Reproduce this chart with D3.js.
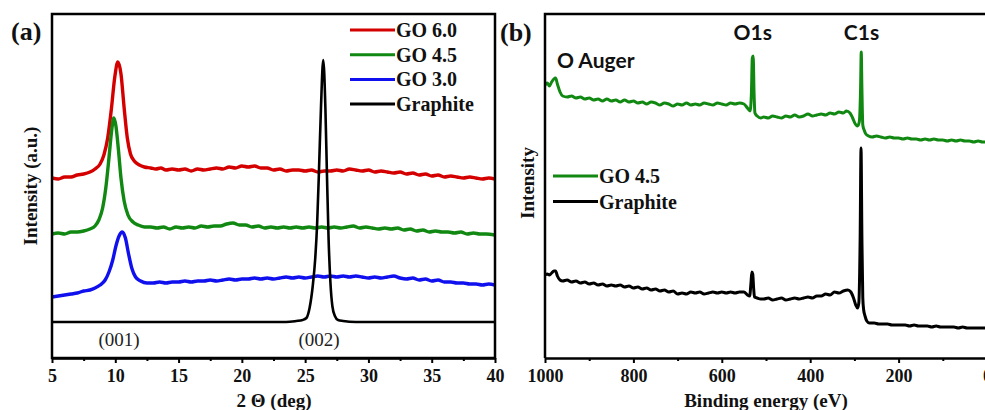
<!DOCTYPE html>
<html>
<head>
<meta charset="utf-8">
<script src="https://cdn.jsdelivr.net/npm/d3@7"></script>
<style>
  body { margin: 0; background: #fff; }
  svg { display: block; }
  .serif { font-family: "Liberation Serif", "Times New Roman", serif; font-weight: bold; fill: #111; }
  .sans { font-family: Lato, "Open Sans", sans-serif; font-weight: 700; fill: #111; }
</style>
</head>
<body>
<svg id="chart" width="985" height="410"></svg>
<script>

// ---- panel (a): XRD, [2theta, intensity (a.u.)] ----
var xrdTicks = [5, 10, 15, 20, 25, 30, 35, 40];
var xrdMinor = [7.5, 12.5, 17.5, 22.5, 27.5, 32.5, 37.5];
var xrdSeries = ["GO 6.0", "GO 4.5", "GO 3.0", "Graphite"];
var xrdColors = ["#d40000", "#118811", "#1010ee", "#000000"];

var go60 = [[5,180],[5.5,179],[6,181],[6.5,181],[7,183],[7.5,184],[8,186],[8.4,189],[8.8,194],[9.1,203],[9.4,220],[9.7,250],[9.95,280],[10.2,296],[10.45,284],[10.7,250],[10.95,220],[11.2,204],[11.5,197],[11.9,193],[12.3,191],[12.8,190],[13.2,189],[13.6,190],[14,188],[14.5,189],[15,188],[15.5,189],[16,187],[16.5,189],[17,188],[17.5,189],[18,190],[18.5,189],[19,191],[19.5,190],[20,192],[20.5,191],[21,192],[21.5,190],[22,190],[22.5,188],[23,189],[23.5,187],[24,188],[24.5,188],[25,187],[25.5,188],[26,186],[26.5,187],[27,187],[27.5,188],[28,187],[28.5,189],[29,188],[29.5,187],[30,188],[30.5,186],[31,187],[31.5,186],[32,185],[32.5,186],[33,184],[33.5,185],[34,183],[34.5,184],[35,182],[35.5,183],[36,181],[36.5,182],[37,181],[37.5,180],[38,181],[38.5,180],[39,179],[39.5,180],[40,179]];

var go45 = [[5,124],[5.5,125],[6,124],[6.5,126],[7,126],[7.5,127],[8,129],[8.4,132],[8.7,138],[9.0,150],[9.25,170],[9.5,200],[9.7,226],[9.88,240],[10.05,232],[10.25,208],[10.45,180],[10.7,157],[11.0,143],[11.4,136],[11.8,133],[12.3,131],[12.8,131],[13.3,130],[13.8,131],[14.3,129],[14.8,131],[15.3,130],[15.8,131],[16.3,130],[16.8,132],[17.3,131],[17.8,132],[18.3,132],[18.8,134],[19.3,135],[19.8,133],[20.3,133],[20.8,131],[21.3,132],[21.8,130],[22.3,131],[22.8,130],[23.3,131],[23.8,130],[24.3,131],[24.8,130],[25.3,131],[25.8,130],[26.3,131],[26.8,130],[27.3,131],[27.8,130],[28.3,131],[28.8,132],[29.3,130],[29.8,131],[30.3,130],[30.8,129],[31.3,130],[31.8,129],[32.3,130],[32.8,128],[33.3,129],[33.8,127],[34.3,128],[34.8,126],[35.3,127],[35.8,126],[36.3,126],[36.8,125],[37.3,126],[37.8,124],[38.3,125],[38.8,124],[39.3,124],[40,123]];

var go30 = [[5,61],[5.5,62],[6,63],[6.5,64],[7,65],[7.5,67],[8,68],[8.4,70],[8.8,73],[9.2,78],[9.5,86],[9.8,98],[10.05,112],[10.3,122],[10.55,126],[10.8,120],[11.05,104],[11.3,90],[11.6,81],[12,77],[12.5,75],[13,75],[13.5,76],[14,75],[14.5,76],[15,76],[15.5,77],[16,76],[16.5,77],[17,77],[17.5,78],[18,77],[18.5,78],[19,79],[19.5,78],[20,79],[20.5,79],[21,80],[21.5,79],[22,80],[22.5,79],[23,80],[23.5,81],[24,80],[24.5,81],[25,80],[25.5,81],[26,82],[26.5,81],[27,82],[27.5,81],[28,82],[28.5,81],[29,82],[29.5,81],[30,80],[30.5,81],[31,80],[31.5,81],[32,82],[32.5,80],[33,79],[33.5,80],[34,78],[34.5,79],[35,77],[35.5,78],[36,76],[36.5,76],[37,75],[37.5,75],[38,74],[38.5,74],[39,73],[39.5,74],[40,73]];

var graphiteXrd = [[5,36],[6,36],[8,36],[10,36],[12,36],[14,36],[16,36],[18,36],[20,36],[22,36],[23.5,36],[24.3,37],[24.8,38],[25.1,40],[25.35,50],[25.6,72],[25.8,100],[25.95,135],[26.1,190],[26.25,250],[26.43,298],[26.6,250],[26.72,185],[26.85,120],[27.0,75],[27.15,52],[27.35,42],[27.6,38],[28,37],[29,36],[31,36],[33,36],[35,36],[37,36],[40,36]];

var xrdPeaks = [{ label: "(001)", x: 10.3 }, { label: "(002)", x: 26.1 }];

// ---- panel (b): XPS survey, [binding energy (eV), intensity] ----
var xpsTicks = [1000, 800, 600, 400, 200, 0];
var xpsMinor = [900, 700, 500, 300, 100];
var xpsSeries = ["GO 4.5", "Graphite"];
var xpsColors = ["#118811", "#000000"];

var xpsGo45 = [[1000,273],[995,275],[990,272],[985,276],[980,279],[976,280],[972,274],[966,266],[960,262],[950,261],[940,262],[930,260],[920,261],[910,259],[900,260],[890,258],[880,259],[870,257],[860,259],[850,257],[840,258],[830,256],[820,258],[810,256],[800,257],[790,255],[780,256],[770,254],[760,256],[750,255],[740,253],[730,255],[720,254],[710,252],[700,254],[690,253],[680,255],[670,253],[660,254],[650,253],[640,255],[630,254],[620,253],[610,255],[600,254],[590,253],[580,255],[570,254],[560,255],[550,254],[542,250],[536,247],[533,265],[531,300],[529,302],[527,265],[525,245],[520,242],[512,240],[505,241],[495,240],[485,242],[475,241],[465,240],[455,242],[445,241],[435,243],[425,241],[415,242],[405,244],[395,242],[385,243],[375,244],[365,243],[355,245],[345,244],[335,246],[325,245],[318,247],[310,245],[304,240],[298,234],[293,232],[289,236],[286,270],[284.5,306],[283,270],[281,233],[278,228],[274,224],[268,222],[260,221],[250,222],[240,221],[230,220],[220,221],[210,220],[200,220],[190,219],[180,220],[170,219],[160,219],[150,218],[140,219],[130,218],[120,219],[110,218],[100,218],[90,217],[80,218],[70,217],[60,218],[50,217],[40,217],[30,216],[20,217],[10,216],[0,216]];

var xpsGraphite = [[1000,83],[995,84],[990,83],[985,85],[980,87],[976,87],[972,82],[966,78],[960,77],[950,78],[940,76],[930,77],[920,75],[910,76],[900,74],[890,75],[880,73],[870,74],[860,72],[850,73],[840,72],[830,73],[820,71],[810,72],[800,70],[790,71],[780,69],[770,70],[760,68],[750,69],[740,67],[730,68],[720,66],[710,67],[700,64],[690,65],[680,64],[670,66],[660,65],[650,66],[640,64],[630,65],[620,66],[610,65],[600,66],[590,65],[580,66],[570,65],[560,66],[550,66],[542,63],[537,62],[534,75],[532,86],[530,84],[528,70],[526,61],[520,60],[512,59],[505,59],[495,60],[485,58],[475,59],[465,60],[455,58],[445,59],[435,60],[425,59],[415,60],[405,61],[395,60],[385,62],[375,62],[365,64],[355,63],[345,66],[335,65],[325,67],[315,68],[308,66],[302,60],[297,53],[293,50],[290,55],[287,120],[285,210],[283,120],[281,60],[279,48],[276,42],[272,37],[266,35],[255,35],[245,34],[235,34],[225,34],[215,33],[205,33],[195,33],[185,33],[175,32],[165,33],[155,32],[145,32],[135,32],[125,31],[115,32],[105,31],[95,31],[85,31],[75,31],[65,30],[55,31],[45,30],[35,30],[25,30],[15,30],[5,30],[0,30]];

var xpsPeaks = [{ label: "O Auger", x: 970, y: 290 }, { label: "O1s", x: 530, y: 318 }, { label: "C1s", x: 284, y: 318 }];

var svg = d3.select("#chart");
var plotTop = 14, plotBottom = 358;

// shared helpers
function drawBottomAxis(g, x, major, minor) {
	g.append("g")
		.attr("transform", "translate(0," + plotBottom + ")")
		.call(d3.axisBottom(x).tickValues(minor).tickSize(3).tickFormat(""))
		.call(function(s) { s.select(".domain").remove(); s.selectAll("line").attr("stroke-width", 2); });
	var ax = g.append("g")
		.attr("transform", "translate(0," + plotBottom + ")")
		.call(d3.axisBottom(x).tickValues(major).tickSize(5).tickPadding(6).tickSizeOuter(0).tickFormat(d3.format("d")));
	ax.select(".domain").attr("stroke-width", 2.5);
	ax.selectAll("line").attr("stroke-width", 2);
	ax.selectAll("text").attr("class", "serif").attr("font-size", 18);
	ax.attr("font-family", null).attr("font-size", null);
	return ax;
}

function legend(g, x0, y0, step, names, colors) {
	names.forEach(function(n, i) {
		var y = y0 + i * step;
		g.append("line").attr("x1", x0).attr("x2", x0 + 45).attr("y1", y).attr("y2", y)
			.attr("stroke", colors[i]).attr("stroke-width", 3);
		g.append("text").attr("class", "serif").attr("font-size", 20)
			.attr("x", x0 + 46).attr("y", y).attr("dy", "0.35em").text(n);
	});
}

// ---------- panel (a) ----------
var xa = d3.scaleLinear().domain([5, 40]).range([52, 495]);
var ya = d3.scaleLinear().domain([0, plotBottom - plotTop]).range([plotBottom, plotTop]);
var ga = svg.append("g");

ga.append("clipPath").attr("id", "clipA").append("rect")
	.attr("x", 52).attr("y", plotTop).attr("width", 443).attr("height", plotBottom - plotTop);

var lineA = d3.line().x(function(d) { return xa(d[0]); }).y(function(d) { return ya(d[1]); })
	.curve(d3.curveMonotoneX);

[go60, go45, go30, graphiteXrd].forEach(function(s, i) {
	ga.append("path").datum(s).attr("d", lineA).attr("clip-path", "url(#clipA)")
		.attr("fill", "none").attr("stroke", xrdColors[i])
		.attr("stroke-width", i == 3 ? 2.6 : 3.4).attr("stroke-linejoin", "round");
});

ga.append("rect").attr("x", 52).attr("y", plotTop).attr("width", 443).attr("height", plotBottom - plotTop)
	.attr("fill", "none").attr("stroke", "#000").attr("stroke-width", 2.5);
drawBottomAxis(ga, xa, xrdTicks, xrdMinor);

xrdPeaks.forEach(function(p) {
	ga.append("text").attr("x", xa(p.x)).attr("y", 346).attr("text-anchor", "middle")
		.style("font-family", "'Liberation Serif', serif").attr("font-size", 19).attr("fill", "#222")
		.text(p.label);
});

legend(ga, 350, 30, 24.7, xrdSeries, xrdColors);

ga.append("text").attr("class", "serif").attr("font-size", 26).attr("x", 11).attr("y", 40).text("(a)");
ga.append("text").attr("class", "serif").attr("font-size", 19).attr("text-anchor", "middle")
	.attr("transform", "translate(37,186) rotate(-90)").text("Intensity (a.u.)");
ga.append("text").attr("class", "serif").attr("font-size", 19).attr("text-anchor", "middle")
	.attr("x", 274).attr("y", 407).text("2 \u0398 (deg)");

// ---------- panel (b) ----------
var xb = d3.scaleLinear().domain([1000, 0]).range([545, 987]);
var yb = d3.scaleLinear().domain([0, plotBottom - plotTop]).range([plotBottom, plotTop]);
var gb = svg.append("g");

gb.append("clipPath").attr("id", "clipB").append("rect")
	.attr("x", 545).attr("y", plotTop).attr("width", 442).attr("height", plotBottom - plotTop);

var lineB = d3.line().x(function(d) { return xb(d[0]); }).y(function(d) { return yb(d[1]); })
	.curve(d3.curveMonotoneX);

[xpsGo45, xpsGraphite].forEach(function(s, i) {
	gb.append("path").datum(s).attr("d", lineB).attr("clip-path", "url(#clipB)")
		.attr("fill", "none").attr("stroke", xpsColors[i])
		.attr("stroke-width", 3).attr("stroke-linejoin", "round");
});

gb.append("path").attr("d", "M987," + plotTop + "H545V" + plotBottom)
	.attr("fill", "none").attr("stroke", "#000").attr("stroke-width", 2.5);
drawBottomAxis(gb, xb, xpsTicks, xpsMinor);

xpsPeaks.forEach(function(p, i) {
	gb.append("text").attr("class", "sans").attr("font-size", 21)
		.attr("x", i == 0 ? 557 : xb(p.x)).attr("y", yb(p.y))
		.attr("text-anchor", i == 0 ? "start" : "middle").text(p.label);
});

legend(gb, 553, 176, 25.5, xpsSeries, xpsColors);

gb.append("text").attr("class", "serif").attr("font-size", 26).attr("x", 500).attr("y", 41).text("(b)");
gb.append("text").attr("class", "serif").attr("font-size", 19).attr("text-anchor", "middle")
	.attr("transform", "translate(534,183) rotate(-90)").text("Intensity");
gb.append("text").attr("class", "serif").attr("font-size", 19).attr("text-anchor", "middle")
	.attr("x", 766).attr("y", 407).text("Binding energy (eV)");

</script>
</body>
</html>
